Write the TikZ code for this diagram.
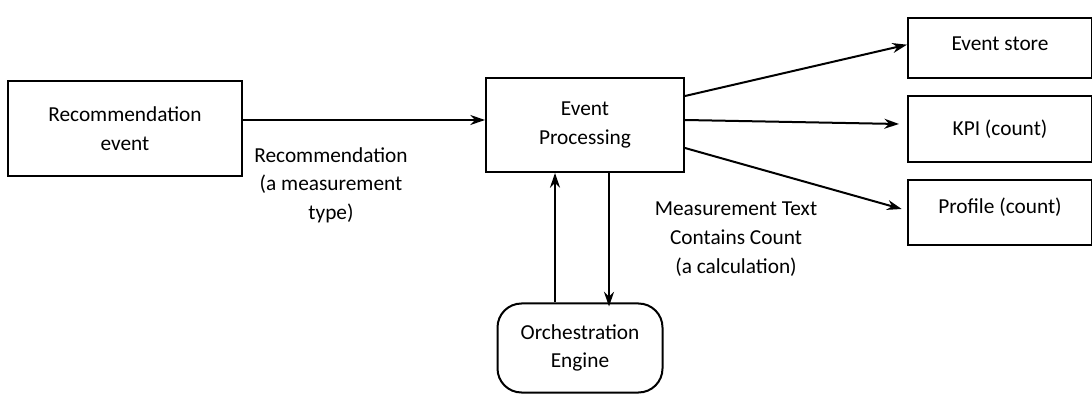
\documentclass[tikz,border=0pt]{standalone}
\usepackage{fontspec}
\setmainfont{Carlito}
\usetikzlibrary{arrows.meta}
\begin{document}
\begin{tikzpicture}[x=0.75pt,y=-0.75pt,
  box/.style={draw=black,line width=1.5pt,rectangle,inner sep=0pt,align=center,font=\fontsize{16}{21.5}\selectfont},
  lbl/.style={align=center,font=\fontsize{16}{21.5}\selectfont,inner sep=0pt},
  conn/.style={line width=1.5pt,-{Stealth[length=11pt,width=7.5pt]}}]
\useasboundingbox (0,0) rectangle (1092,395);
\node[box,minimum width=234*0.75pt,minimum height=95*0.75pt] (rec) at (125,129) {Recommendation\\event};
\node[box,minimum width=198*0.75pt,minimum height=94*0.75pt] (ep) at (585,125) {Event\\Processing};
\node[box,minimum width=184*0.75pt,minimum height=60*0.75pt,anchor=north west,
  label={[lbl,yshift=3pt]center:Event store}] (es) at (907,17) {};
\node[box,minimum width=184*0.75pt,minimum height=66*0.75pt,anchor=north west,
  label={[lbl]center:KPI (count)}] (kpi) at (907,95) {};
\node[box,minimum width=184*0.75pt,minimum height=65*0.75pt,anchor=north west,
  label={[lbl,yshift=4pt]center:Profile (count)}] (prof) at (907,179) {};
\node[box,rounded corners=18pt,minimum width=165*0.75pt,minimum height=89*0.75pt] (orch) at (580,348) {Orchestration\\Engine};
\node[lbl] (l1) at (331,185) {Recommendation\\(a measurement\\type)};
\node[lbl] (l2) at (736,239) {Measurement Text\\Contains Count\\(a calculation)};
\draw[conn] (rec.east |- 0,120) -- (ep.west |- 0,120);
\draw[conn] (ep.east |- 0,96) -- ([yshift=-2pt]es.west |- 0,42) ;
\draw[conn] (ep.east |- 0,120) -- ([xshift=-6pt]kpi.west |- 0,124);
\draw[conn] (ep.east |- 0,148) -- ([xshift=-4pt]prof.west |- 0,209);
\draw[conn] (orch.north -| 555,0) -- (ep.south -| 555,0);
\draw[conn] (ep.south -| 609,0) -- ([yshift=-3pt]orch.north -| 609,0);
\end{tikzpicture}
\end{document}
